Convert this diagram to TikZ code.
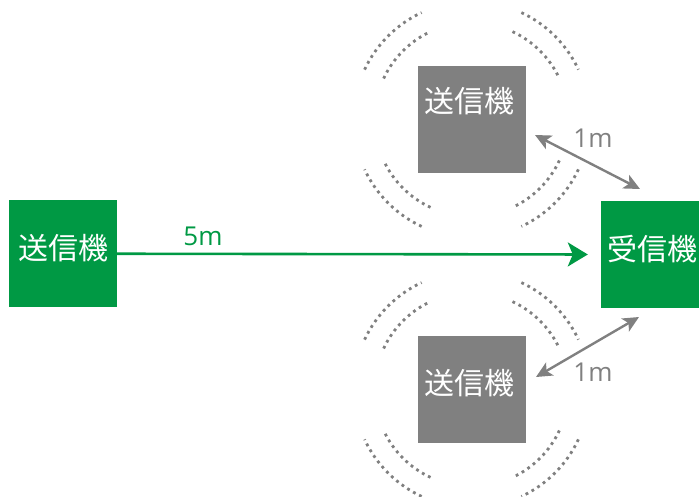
\documentclass[tikz,border=0pt]{standalone}
\usepackage{fontspec}
\setmainfont{Open Sans}
\newfontfamily\jp{Noto Sans CJK JP}
\usetikzlibrary{arrows.meta}
\definecolor{grn}{RGB}{0,153,68}
\definecolor{gry}{RGB}{128,128,128}
\begin{document}
\begin{tikzpicture}[x=1pt,y=-1pt,
  devbox/.style={minimum width=108pt,minimum height=107pt,inner sep=0pt,draw=none},
  jtxt/.style={text=white,font=\jp\fontsize{30}{36}\selectfont,inner sep=0pt},
  dist/.style={font=\fontsize{26}{30}\selectfont,inner sep=0pt},
  garrow/.style={draw=grn,line width=2.6pt,-{Stealth[length=20pt,width=24pt,inset=5pt]}},
  darrow/.style={draw=gry,line width=2.4pt,{Stealth[length=16pt,width=15pt,inset=4pt]}-{Stealth[length=16pt,width=15pt,inset=4pt]}},
  dots/.style={draw=gry,line width=2.8pt,dash pattern=on 2.8pt off 4pt}]
\useasboundingbox (0,0) rectangle (699,496);
\clip (0,0) rectangle (699,496);
% boxes
\node[devbox,fill=grn] (tx) at (63,253.75) {};
\node[jtxt] (txl) at (63,248) {送信機};
\node[devbox,fill=grn] (rx) at (655,254.5) {};
\node[jtxt] (rxl) at (652.5,249) {受信機};
\node[devbox,fill=gry] (up) at (471.5,119.5) {};
\node[jtxt] (upl) at (469.5,101) {送信機};
\node[devbox,fill=gry] (dn) at (471.5,389.5) {};
\node[jtxt] (dnl) at (469.5,383.5) {送信機};
% arcs
\foreach \c in {up,dn}
  \foreach \a in {45,135,225,315}
    \foreach \rr in {97,118}
      \draw[dots] (\c.center) ++({\a-20}:\rr) arc[start angle={\a-20}, end angle={\a+20}, radius=\rr];
% main arrow
\draw[garrow,shorten >=13pt] (tx.east) -- (rx.west);
\node[dist,text=grn] (d5) at (203,236) {5m};
% interference arrows
\coordinate (u1) at (535,135);
\coordinate (u2) at (640,189);
\coordinate (l1) at (639,317);
\coordinate (l2) at (536,377);
\draw[darrow] (u1) -- (u2);
\draw[darrow] (l1) -- (l2);
\node[dist,text=gry] (d1u) at (593,138.5) {1m};
\node[dist,text=gry] (d1l) at (593,372) {1m};
\end{tikzpicture}
\end{document}
